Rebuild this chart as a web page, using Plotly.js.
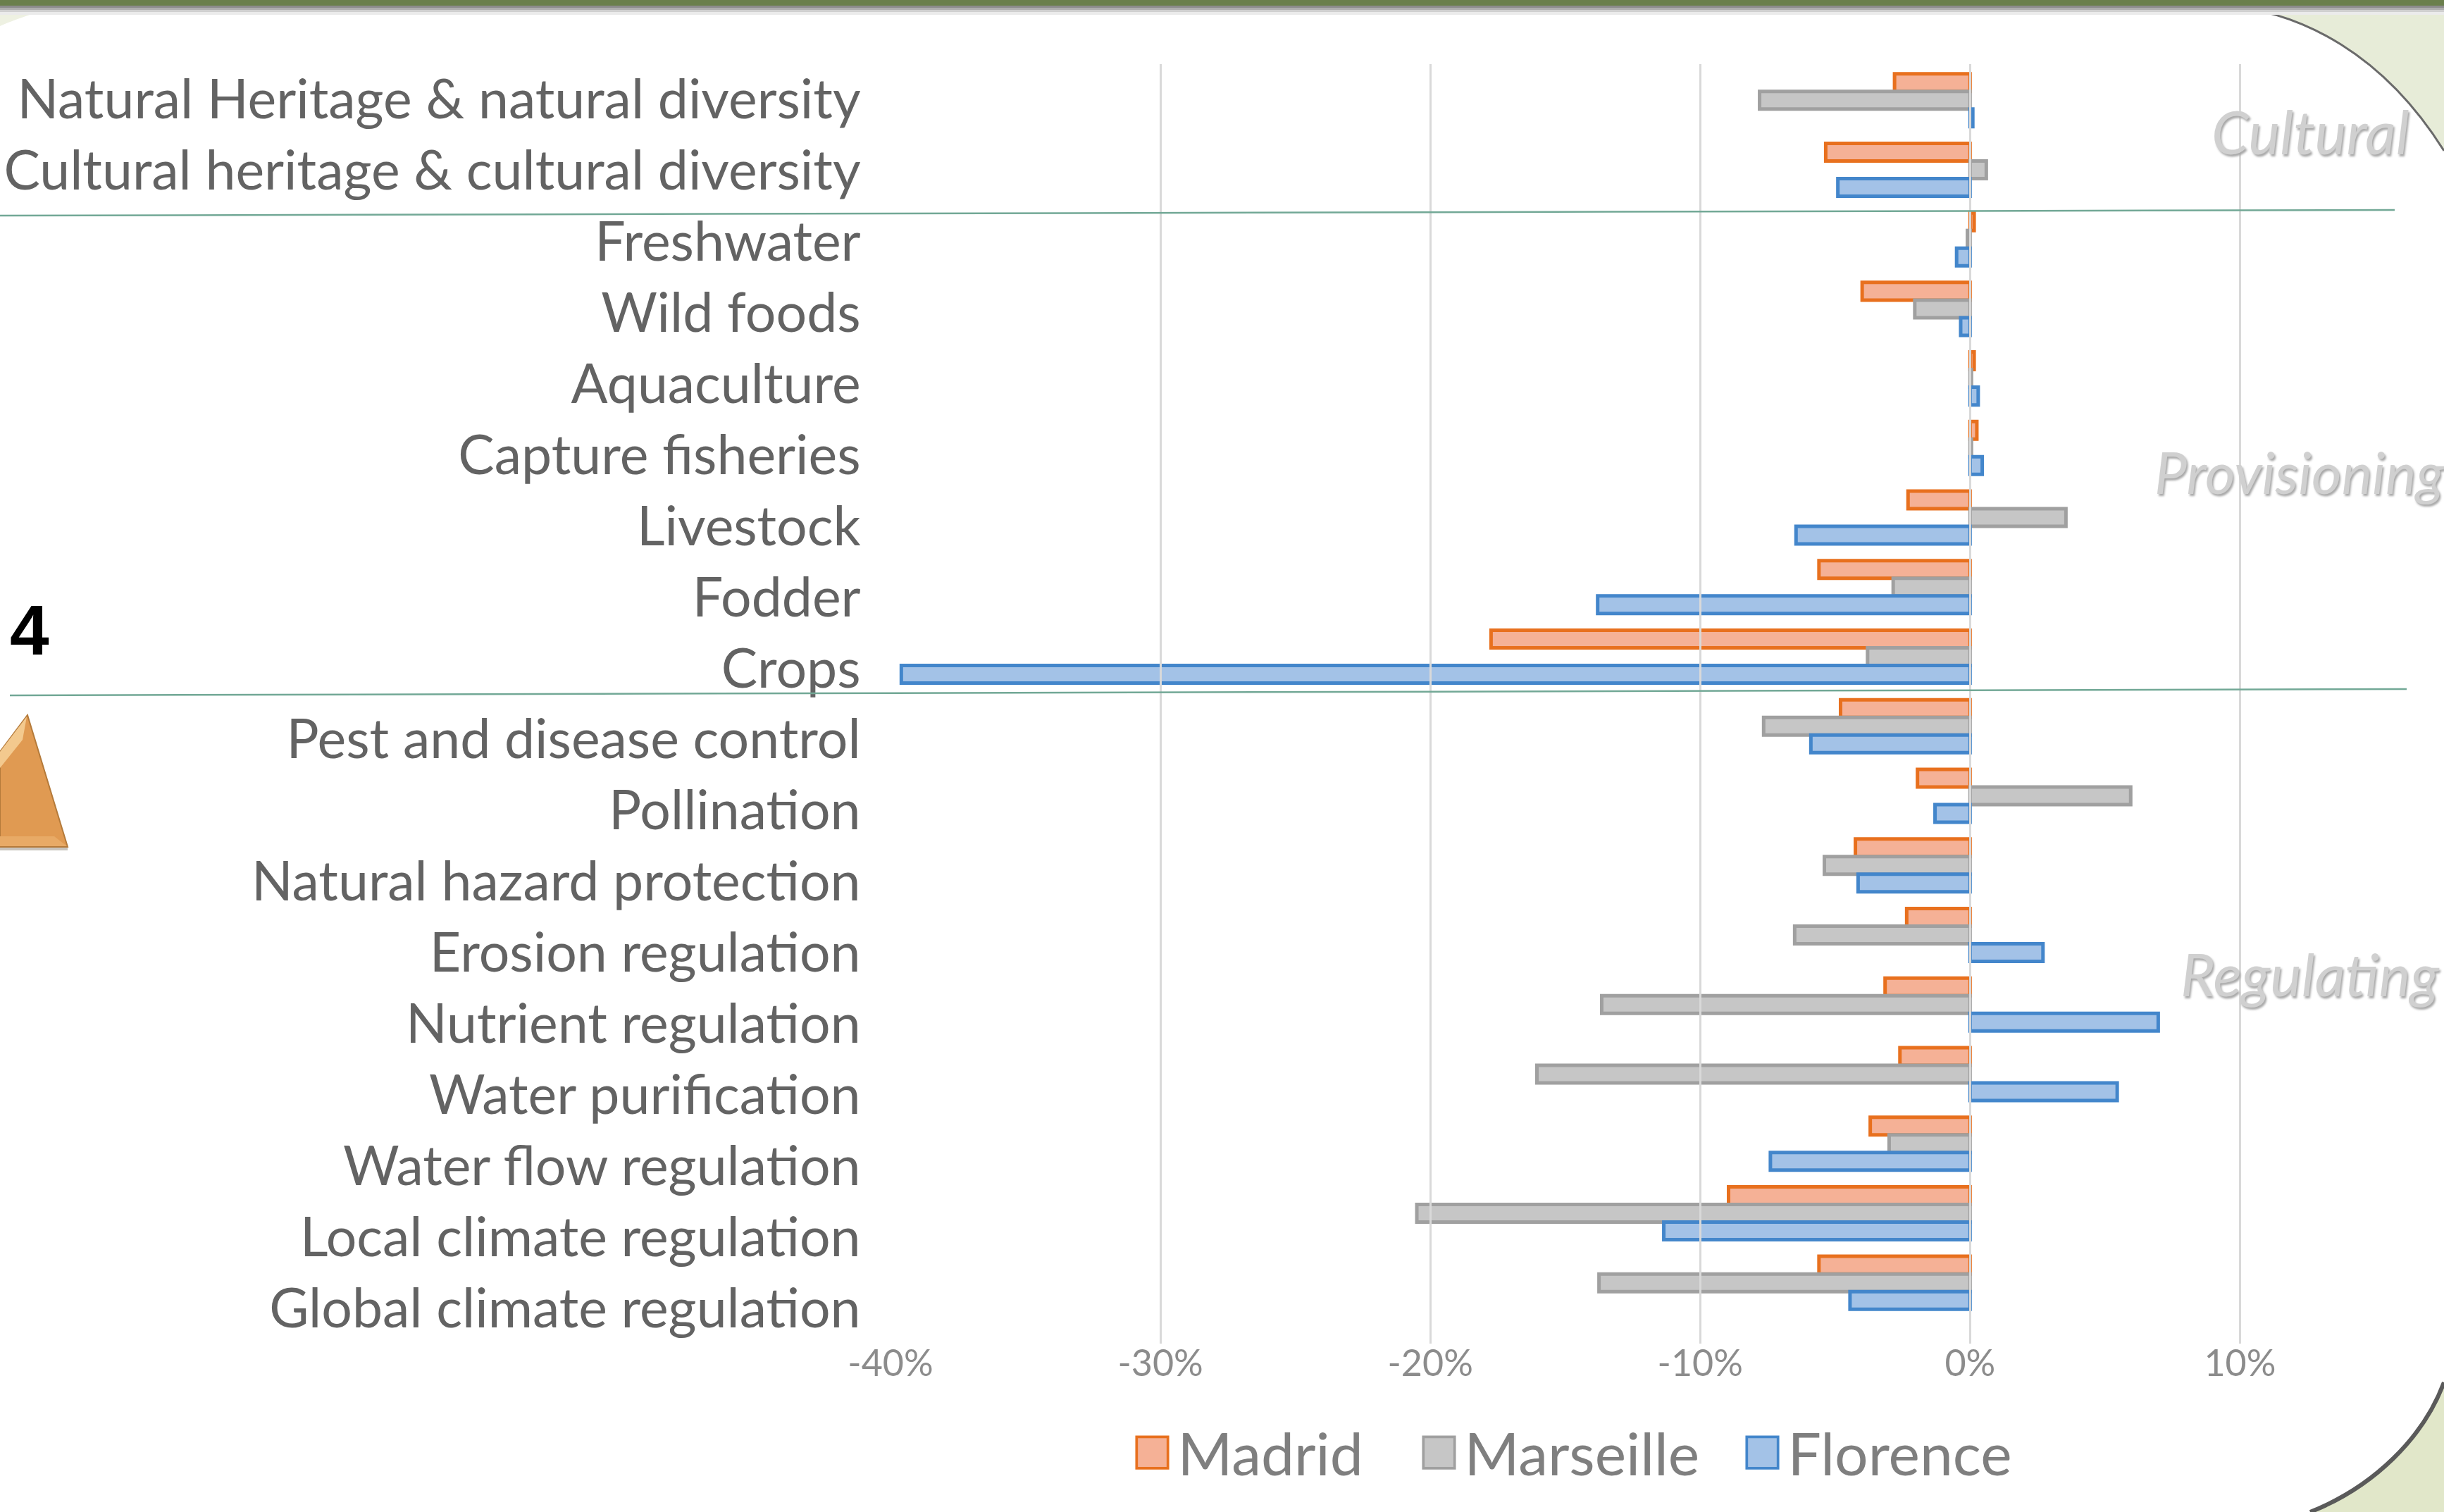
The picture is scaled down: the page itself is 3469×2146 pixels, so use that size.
<!DOCTYPE html>
<html><head><meta charset="utf-8">
<script src="https://cdn.plot.ly/plotly-3.0.0.min.js"></script>
<style>html,body{margin:0;padding:0;background:#fff;overflow:hidden}#chart{width:3469px;height:2146px}</style>
</head><body><div id="chart"></div>
<script>
const categories = ["Natural Heritage & natural diversity","Cultural heritage & cultural diversity","Freshwater","Wild foods","Aquaculture","Capture fisheries","Livestock","Fodder","Crops","Pest and disease control","Pollination","Natural hazard protection","Erosion regulation","Nutrient regulation","Water purification","Water flow regulation","Local climate regulation","Global climate regulation"];
const madrid    = [-2.8,-5.35,0.15,-4.0,0.15,0.25,-2.3,-5.6,-17.75,-4.8,-1.95,-4.25,-2.35,-3.15,-2.6,-3.7,-8.95,-5.6];
const marseille = [-7.8,0.6,-0.1,-2.05,0.05,0.05,3.55,-2.85,-3.8,-7.65,5.95,-5.4,-6.5,-13.65,-16.05,-3.0,-20.5,-13.75];
const florence  = [0.1,-4.9,-0.5,-0.35,0.3,0.45,-6.45,-13.8,-39.6,-5.9,-1.3,-4.15,2.7,6.97,5.45,-7.4,-11.35,-4.45];
const tickVals  = [-40,-30,-20,-10,0,10];
const tickTexts = ["-40%","-30%","-20%","-10%","0%","10%"];

const FONT = "Lato, 'Open Sans', sans-serif";
const W = 3469, H = 2146, L = 1264, R = 3371, T = 91, B = 1907;
const px = x => (x - L) / (R - L);
const py = y => 1 - (y - T) / (B - T);
const P = (x, y) => px(x) + "," + py(y);

function bar(name, vals, fill, line) {
  return {type:"bar", orientation:"h", name, x:vals, y:categories, xaxis:"x", yaxis:"y",
    marker:{color:fill, line:{color:line, width:5}}, hoverinfo:"x+y+name"};
}
const traces = [
  bar("Madrid", madrid, "#f5b196", "#e8701e"),
  bar("Marseille", marseille, "#c6c6c6", "#a0a0a0"),
  bar("Florence", florence, "#a3c2e7", "#4386cb"),
  {type:"bar", orientation:"h", x:categories.map(() => 0), y:categories, xaxis:"x", yaxis:"y2",
   showlegend:false, hoverinfo:"skip", marker:{color:"rgba(0,0,0,0)"}}
];

const shapeBase = {type:"path", xref:"paper", yref:"paper", layer:"below"};
const rect = (x0,y0,x1,y1,color) => ({type:"rect", xref:"paper", yref:"paper", layer:"below",
  x0:px(x0), x1:px(x1), y0:py(y0), y1:py(y1), fillcolor:color, line:{width:0}});
const seg = (x0,y0,x1,y1,color,w) => ({type:"line", xref:"paper", yref:"paper", layer:"above",
  x0:px(x0), x1:px(x1), y0:py(y0), y1:py(y1), line:{color:color, width:w}});
const poly = (pts,color,line) => Object.assign({}, shapeBase, {
  path:"M" + pts.map(p => P(p[0],p[1])).join(" L") + " Z", fillcolor:color,
  line: line ? {color:line, width:2} : {width:0}});
const curves = [
  {edge:`M${P(3150,7)} C${P(3270,15)} ${P(3385,80)} ${P(3469,214)}`, close:`L${P(3469,0)} L${P(3150,0)} Z`, fill:"#e7ecd8"},
  {edge:`M${P(3469,1962)} C${P(3440,2040)} ${P(3370,2110)} ${P(3279,2146)}`, close:`L${P(3469,2146)} Z`, fill:"#e1e7c9"},
  {edge:`M${P(0,37)} C${P(30,24)} ${P(70,10)} ${P(117,7)}`, close:`L${P(117,0)} L${P(0,0)} Z`, fill:"#eef1e2"}
];
const shapes = [];
curves.forEach(c => shapes.push(Object.assign({}, shapeBase, {path:c.edge + " " + c.close, fillcolor:c.fill, line:{width:0}})));
shapes.push(Object.assign({}, shapeBase, {path:curves[0].edge, line:{color:"#6a6a6a", width:3}, fillcolor:"rgba(0,0,0,0)"}));
shapes.push(Object.assign({}, shapeBase, {path:curves[1].edge, line:{color:"#5a5a5a", width:6}, fillcolor:"rgba(0,0,0,0)"}));
[["#8c8c8c",8,11],["#adadad",11,14],["#d0d0d0",14,17],["#ebebeb",17,21]].forEach(s => shapes.push(rect(0,s[1],W,s[2],s[0])));
shapes.push(rect(0,0,W,8,"#6a7f4c"));
shapes.push(rect(0,1203,96,1207,"#c9c4bd"));
shapes.push(poly([[0,1067],[39,1015],[96,1202],[0,1202]],"#e09a52","#b47a3a"));
shapes.push(poly([[0,1067],[38,1017],[32,1050],[0,1090]],"#f3c98e"));
shapes.push(poly([[0,1187],[77,1187],[95,1201],[0,1201]],"#e8aa66"));
shapes.push(seg(0,306,3399,298,"#72a896",2.5));
shapes.push(seg(14,987,3416,978,"#72a896",2.5));

const groupLabel = (text,x,y,size) => ({text:"<i>"+text+"</i>", xref:"paper", yref:"paper", x:px(x), y:py(y),
  xanchor:"left", yanchor:"middle", showarrow:false,
  font:{family:FONT, size:size, color:"#d0d0d0", shadow:"2px 3px 3px #a8a8a8"}});
const annotations = [
  groupLabel("Cultural",3137,186,85),
  groupLabel("Provisioning",3056,669,82),
  groupLabel("Regulating",3093,1381,84),
  {text:"<b>4</b>", xref:"paper", yref:"paper", x:px(12), y:py(894), xanchor:"left", yanchor:"middle",
   showarrow:false, font:{family:"'Liberation Sans', Arial, sans-serif", size:100, color:"#000000"}}
];

const layout = {
  width:W, height:H, paper_bgcolor:"#ffffff", plot_bgcolor:"rgba(0,0,0,0)", showlegend:true,
  margin:{l:L, r:W-R, t:T, b:H-B, pad:0, autoexpand:false},
  barmode:"group", bargap:0.24, bargroupgap:0,
  font:{family:FONT, color:"#595959"},
  xaxis:{range:[-40,15], anchor:"y", tickmode:"array", tickvals:tickVals, ticktext:tickTexts,
    showgrid:true, gridcolor:"#d9d9d9", gridwidth:2.5, zeroline:true, zerolinecolor:"#d9d9d9", zerolinewidth:2.5,
    showline:false, ticks:"outside", ticklen:20, tickcolor:"rgba(0,0,0,0)",
    tickfont:{family:FONT, size:52, color:"#8c8c8c"}},
  yaxis:{type:"category", categoryorder:"array", categoryarray:categories, range:[17.5,-0.5],
    domain:[37/1816,0.999], anchor:"x", showticklabels:false, showgrid:false, zeroline:false, ticks:""},
  yaxis2:{type:"category", categoryorder:"array", categoryarray:categories, range:[17.5,-0.5],
    domain:[0,1], anchor:"x", side:"left", showgrid:false, zeroline:false,
    tickmode:"array", tickvals:categories, ticktext:categories,
    ticks:"outside", ticklen:26, tickcolor:"rgba(0,0,0,0)",
    tickfont:{family:FONT, size:77, color:"#636363"}},
  legend:{orientation:"h", x:px(2249), xanchor:"center", y:py(2062), yanchor:"middle",
    font:{family:FONT, size:84, color:"#7f7f7f"}, itemwidth:62, entrywidth:356, entrywidthmode:"pixels",
    bgcolor:"rgba(0,0,0,0)", traceorder:"normal"},
  shapes, annotations
};
Plotly.newPlot("chart", traces, layout, {displayModeBar:false, responsive:false}).then(gd => {
  gd.querySelectorAll(".legend .legendpoints path").forEach(p => {
    const t = p.getAttribute("transform") || "";
    p.setAttribute("transform", t + " scale(3.7)");
    p.style.strokeWidth = "1px";
  });
  const entries = gd.querySelectorAll(".legend .traces");
  if (entries[1]) {
    const m = /translate\(([-\d.]+)[ ,]+([-\d.]+)\)/.exec(entries[1].getAttribute("transform") || "");
    if (m) entries[1].setAttribute("transform", `translate(${parseFloat(m[1]) - 26},${m[2]})`);
  }
});
</script></body></html>
